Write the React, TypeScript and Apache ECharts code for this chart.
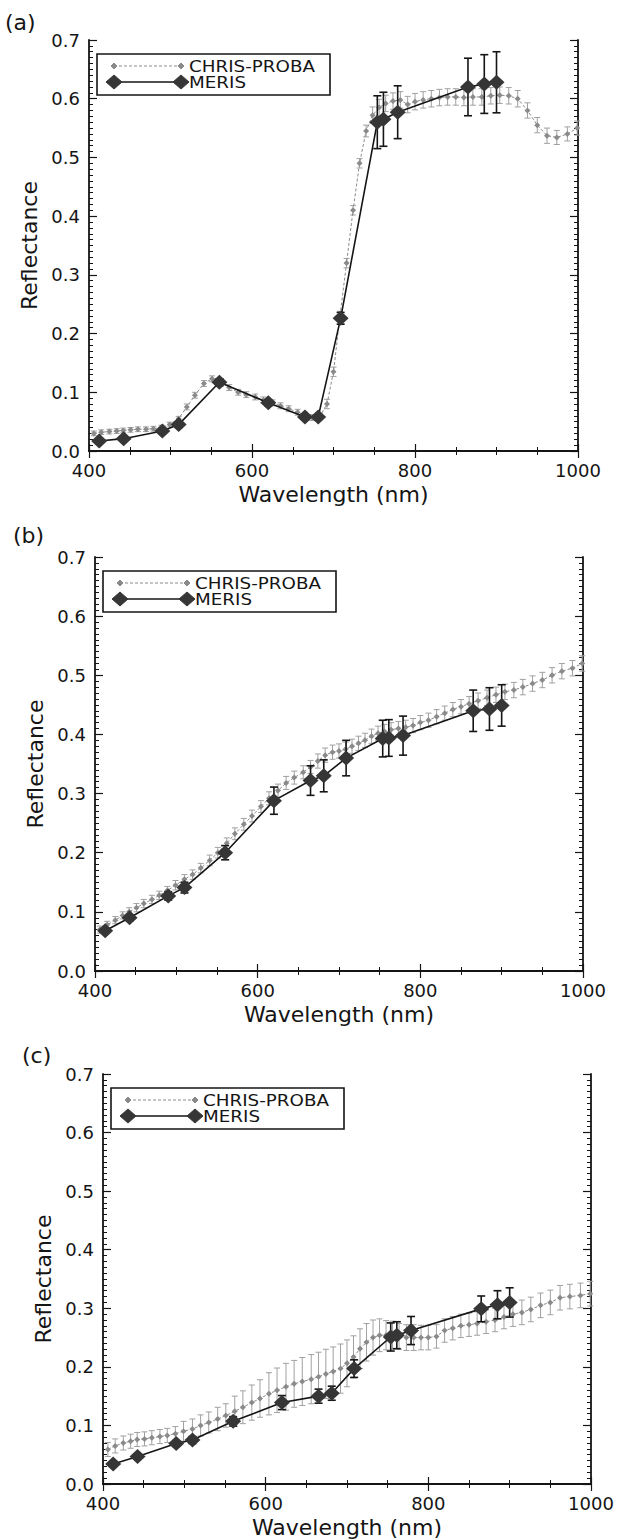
import React, { useEffect, useRef } from "react";
import * as echarts from "echarts";

// CHRIS-PROBA band centres (nm)
const chrisWl = [406, 415, 425, 434, 442, 451, 460, 470, 479, 489, 499, 510, 520, 530, 541, 551, 562, 572, 583, 593, 604, 614, 625, 635, 645, 656, 665, 674, 683, 692, 700, 708, 716, 724, 732, 740, 748, 756, 764, 773, 782, 791, 800, 810, 820, 830, 840, 850, 860, 871, 882, 893, 904, 915, 926, 938, 950, 962, 974, 987, 999];

// MERIS band centres (nm)
const merisWl = [412.5, 442.5, 490, 510, 560, 620, 665, 681.25, 708.75, 753.75, 761.25, 778.75, 865, 885, 900];

// Panel (a)
const chrisA = [0.030, 0.032, 0.033, 0.034, 0.035, 0.036, 0.037, 0.037, 0.038, 0.040, 0.045, 0.055, 0.075, 0.095, 0.115, 0.123, 0.118, 0.108, 0.100, 0.096, 0.092, 0.087, 0.082, 0.077, 0.072, 0.066, 0.061, 0.057, 0.058, 0.080, 0.135, 0.230, 0.320, 0.410, 0.490, 0.545, 0.572, 0.585, 0.592, 0.596, 0.598, 0.590, 0.595, 0.598, 0.600, 0.602, 0.603, 0.603, 0.602, 0.603, 0.603, 0.605, 0.606, 0.605, 0.600, 0.580, 0.555, 0.537, 0.534, 0.540, 0.550];
const chrisErrA = [0.004, 0.004, 0.004, 0.004, 0.004, 0.004, 0.004, 0.004, 0.004, 0.004, 0.004, 0.004, 0.005, 0.005, 0.005, 0.005, 0.005, 0.005, 0.005, 0.005, 0.005, 0.005, 0.005, 0.005, 0.005, 0.005, 0.005, 0.005, 0.005, 0.008, 0.008, 0.008, 0.008, 0.008, 0.008, 0.010, 0.014, 0.014, 0.014, 0.014, 0.014, 0.014, 0.014, 0.014, 0.014, 0.014, 0.014, 0.014, 0.014, 0.014, 0.014, 0.014, 0.014, 0.014, 0.014, 0.013, 0.013, 0.013, 0.012, 0.012, 0.012];
const merisA = [0.017, 0.021, 0.034, 0.045, 0.117, 0.082, 0.058, 0.058, 0.226, 0.560, 0.565, 0.577, 0.620, 0.625, 0.628];
const merisErrA = [0.004, 0.004, 0.004, 0.005, 0.006, 0.005, 0.004, 0.004, 0.010, 0.045, 0.046, 0.045, 0.049, 0.050, 0.052];

// Panel (b)
const chrisB = [0.070, 0.078, 0.086, 0.094, 0.100, 0.107, 0.114, 0.121, 0.128, 0.136, 0.145, 0.155, 0.163, 0.174, 0.187, 0.200, 0.216, 0.232, 0.248, 0.262, 0.278, 0.292, 0.305, 0.318, 0.327, 0.336, 0.345, 0.355, 0.365, 0.370, 0.372, 0.375, 0.380, 0.385, 0.390, 0.397, 0.402, 0.405, 0.408, 0.410, 0.412, 0.415, 0.420, 0.424, 0.430, 0.436, 0.442, 0.447, 0.452, 0.457, 0.462, 0.467, 0.472, 0.475, 0.480, 0.486, 0.492, 0.500, 0.507, 0.512, 0.520];
const chrisErrB = [0.006, 0.006, 0.006, 0.006, 0.007, 0.007, 0.007, 0.007, 0.007, 0.007, 0.008, 0.008, 0.008, 0.008, 0.009, 0.009, 0.009, 0.010, 0.010, 0.010, 0.010, 0.011, 0.011, 0.011, 0.011, 0.011, 0.011, 0.012, 0.012, 0.012, 0.012, 0.012, 0.012, 0.012, 0.012, 0.012, 0.012, 0.012, 0.012, 0.012, 0.012, 0.012, 0.012, 0.012, 0.012, 0.012, 0.012, 0.012, 0.012, 0.013, 0.013, 0.013, 0.013, 0.013, 0.013, 0.013, 0.013, 0.013, 0.013, 0.013, 0.013];
const merisB = [0.068, 0.090, 0.127, 0.141, 0.200, 0.288, 0.322, 0.330, 0.360, 0.393, 0.394, 0.398, 0.440, 0.443, 0.449];
const merisErrB = [0.003, 0.005, 0.007, 0.009, 0.012, 0.023, 0.025, 0.027, 0.030, 0.031, 0.031, 0.033, 0.035, 0.036, 0.035];

// Panel (c)
const chrisC = [0.059, 0.065, 0.070, 0.073, 0.076, 0.077, 0.079, 0.081, 0.083, 0.086, 0.090, 0.094, 0.100, 0.105, 0.111, 0.117, 0.124, 0.131, 0.139, 0.146, 0.154, 0.160, 0.166, 0.171, 0.175, 0.179, 0.183, 0.188, 0.192, 0.197, 0.206, 0.217, 0.231, 0.242, 0.250, 0.254, 0.254, 0.254, 0.252, 0.250, 0.250, 0.250, 0.250, 0.252, 0.262, 0.266, 0.270, 0.272, 0.274, 0.277, 0.280, 0.285, 0.290, 0.293, 0.298, 0.305, 0.310, 0.318, 0.320, 0.322, 0.325];
const chrisErrC = [0.012, 0.012, 0.012, 0.012, 0.012, 0.012, 0.012, 0.012, 0.012, 0.012, 0.017, 0.017, 0.018, 0.018, 0.020, 0.020, 0.026, 0.028, 0.030, 0.032, 0.036, 0.038, 0.040, 0.040, 0.041, 0.042, 0.042, 0.042, 0.042, 0.042, 0.040, 0.036, 0.034, 0.032, 0.030, 0.028, 0.025, 0.024, 0.022, 0.022, 0.022, 0.021, 0.021, 0.020, 0.020, 0.020, 0.020, 0.020, 0.020, 0.020, 0.020, 0.020, 0.021, 0.021, 0.021, 0.021, 0.021, 0.021, 0.021, 0.021, 0.021];
const merisC = [0.034, 0.047, 0.069, 0.075, 0.107, 0.139, 0.150, 0.155, 0.197, 0.251, 0.254, 0.262, 0.299, 0.306, 0.310];
const merisErrC = [0.003, 0.004, 0.005, 0.006, 0.008, 0.012, 0.012, 0.012, 0.015, 0.024, 0.023, 0.024, 0.022, 0.024, 0.025];

const panelLabels = ["(a)", "(b)", "(c)"];
const seriesNames = ["CHRIS-PROBA", "MERIS"];
const xAxisName = "Wavelength (nm)";
const yAxisName = "Reflectance";

const panels = [
  { chris: chrisA, chrisErr: chrisErrA, meris: merisA, merisErr: merisErrA },
  { chris: chrisB, chrisErr: chrisErrB, meris: merisB, merisErr: merisErrB },
  { chris: chrisC, chrisErr: chrisErrC, meris: merisC, merisErr: merisErrC },
];

const grids = [
  { left: 89, top: 40, width: 489, height: 411 },
  { left: 95, top: 557, width: 488, height: 414 },
  { left: 103, top: 1074, width: 488, height: 415 },
];
const labelPos = [
  { x: 5, y: 24 },
  { x: 13, y: 537 },
  { x: 22, y: 1057 },
];

const FONT = "DejaVu Sans";
const INK = "#151515";
const GRAY = "#8a8a8a";
const GRAY_ERR = "#a0a0a0";
const MERIS_FILL = "#363636";

function errorRender(color: string, cap: number, width: number) {
  return (params: any, api: any) => {
    const x = api.value(0);
    const lo = api.coord([x, api.value(1)]);
    const hi = api.coord([x, api.value(2)]);
    return {
      type: "group",
      children: [
        { type: "line", shape: { x1: lo[0], y1: lo[1], x2: hi[0], y2: hi[1] }, style: { stroke: color, lineWidth: width } },
        { type: "line", shape: { x1: lo[0] - cap, y1: lo[1], x2: lo[0] + cap, y2: lo[1] }, style: { stroke: color, lineWidth: width } },
        { type: "line", shape: { x1: hi[0] - cap, y1: hi[1], x2: hi[0] + cap, y2: hi[1] }, style: { stroke: color, lineWidth: width } },
      ],
    };
  };
}

function diamond(cx: number, cy: number, hw: number, hh: number, fill: string) {
  return {
    type: "polygon",
    shape: { points: [[cx, cy - hh], [cx + hw, cy], [cx, cy + hh], [cx - hw, cy]] },
    style: { fill, stroke: fill },
  };
}

export default function App() {
  const ref = useRef<HTMLDivElement>(null);
  useEffect(() => {
    if (!ref.current) return;
    const chart = echarts.init(ref.current, null, { renderer: "svg" });
    const xAxis: any[] = [];
    const yAxis: any[] = [];
    const series: any[] = [];
    const graphic: any[] = [];
    const axisLine = { show: true, lineStyle: { color: INK, width: 1.8 } };

    grids.forEach((g, i) => {
      const baseX = {
        type: "value", gridIndex: i, min: 400, max: 1000, interval: 200,
        axisLine, splitLine: { show: false },
        axisTick: { show: true, inside: true, length: 7, lineStyle: { color: INK, width: 1.2 } },
        minorTick: { show: true, splitNumber: 4, length: 4, lineStyle: { color: INK, width: 1 } },
      };
      xAxis.push({
        ...baseX, position: "bottom",
        axisLabel: { show: true, color: INK, fontFamily: FONT, fontSize: 18, margin: 10, formatter: (v: number) => String(v) },
        name: xAxisName, nameLocation: "middle", nameGap: 32,
        nameTextStyle: { color: INK, fontFamily: FONT, fontSize: 22 },
      });
      xAxis.push({ ...baseX, position: "top", axisLabel: { show: false } });
      const baseY = {
        type: "value", gridIndex: i, min: 0, max: 0.7, interval: 0.1,
        axisLine, splitLine: { show: false },
        axisTick: { show: true, inside: true, length: 8, lineStyle: { color: INK, width: 1.2 } },
        minorTick: { show: true, splitNumber: 10, length: 4, lineStyle: { color: INK, width: 1 } },
      };
      yAxis.push({
        ...baseY, position: "left",
        axisLabel: { show: true, color: INK, fontFamily: FONT, fontSize: 18, margin: 9, formatter: (v: number) => v.toFixed(1) },
        name: yAxisName, nameLocation: "middle", nameGap: 48,
        nameTextStyle: { color: INK, fontFamily: FONT, fontSize: 22 },
      });
      yAxis.push({ ...baseY, position: "right", axisLabel: { show: false } });

      const p = panels[i];
      series.push({
        type: "custom", name: seriesNames[0] + " error", xAxisIndex: 2 * i, yAxisIndex: 2 * i,
        renderItem: errorRender(GRAY_ERR, 3, 1),
        encode: { x: 0, y: [1, 2] },
        data: chrisWl.map((w, k) => [w, p.chris[k] - p.chrisErr[k], p.chris[k] + p.chrisErr[k]]),
        z: 1,
      });
      series.push({
        type: "line", name: seriesNames[0], xAxisIndex: 2 * i, yAxisIndex: 2 * i,
        data: chrisWl.map((w, k) => [w, p.chris[k]]),
        symbol: "diamond", symbolSize: 6,
        itemStyle: { color: GRAY },
        lineStyle: { color: GRAY, width: 1, type: [3, 2] },
        z: 2,
      });
      series.push({
        type: "custom", name: seriesNames[1] + " error", xAxisIndex: 2 * i, yAxisIndex: 2 * i,
        renderItem: errorRender(INK, 4, 1.6),
        encode: { x: 0, y: [1, 2] },
        data: merisWl.map((w, k) => [w, p.meris[k] - p.merisErr[k], p.meris[k] + p.merisErr[k]]),
        z: 3,
      });
      series.push({
        type: "line", name: seriesNames[1], xAxisIndex: 2 * i, yAxisIndex: 2 * i,
        data: merisWl.map((w, k) => [w, p.meris[k]]),
        symbol: "diamond", symbolSize: [16, 15],
        itemStyle: { color: MERIS_FILL },
        lineStyle: { color: INK, width: 1.6 },
        z: 4,
      });

      graphic.push({
        type: "text", left: labelPos[i].x, top: labelPos[i].y - 13,
        style: { text: panelLabels[i], fill: INK, font: `22px '${FONT}'` },
      });
      const bx = g.left + 8;
      const by = g.top + 14;
      graphic.push({
        type: "group", x: bx, y: by, z: 10,
        children: [
          { type: "rect", shape: { x: 0, y: 0, width: 233, height: 41 }, style: { fill: "#fff", stroke: INK, lineWidth: 1.6 } },
          { type: "line", shape: { x1: 17, y1: 12, x2: 84, y2: 12 }, style: { stroke: GRAY, lineWidth: 1, lineDash: [3, 2] } },
          diamond(17, 12, 3, 3, GRAY),
          diamond(84, 12, 3, 3, GRAY),
          { type: "line", shape: { x1: 17, y1: 28, x2: 84, y2: 28 }, style: { stroke: INK, lineWidth: 1.6 } },
          diamond(17, 28, 8, 7, MERIS_FILL),
          diamond(84, 28, 8, 7, MERIS_FILL),
          { type: "text", x: 92, y: 20, scaleX: 1.22, style: { text: seriesNames[0], fill: INK, font: `15px '${FONT}'`, verticalAlign: "bottom" } },
          { type: "text", x: 92, y: 21, scaleX: 1.22, style: { text: seriesNames[1], fill: INK, font: `15px '${FONT}'`, verticalAlign: "top" } },
        ],
      });
    });

    chart.setOption({
      animation: false,
      backgroundColor: "#fff",
      textStyle: { fontFamily: FONT },
      grid: grids.map((g) => ({ ...g, containLabel: false })),
      xAxis,
      yAxis,
      series,
      graphic,
    });
    return () => chart.dispose();
  }, []);

  return (
    <div
      ref={ref}
      style={{ position: "absolute", left: 0, top: 0, width: 618, height: 1539, background: "#fff" }}
    />
  );
}
